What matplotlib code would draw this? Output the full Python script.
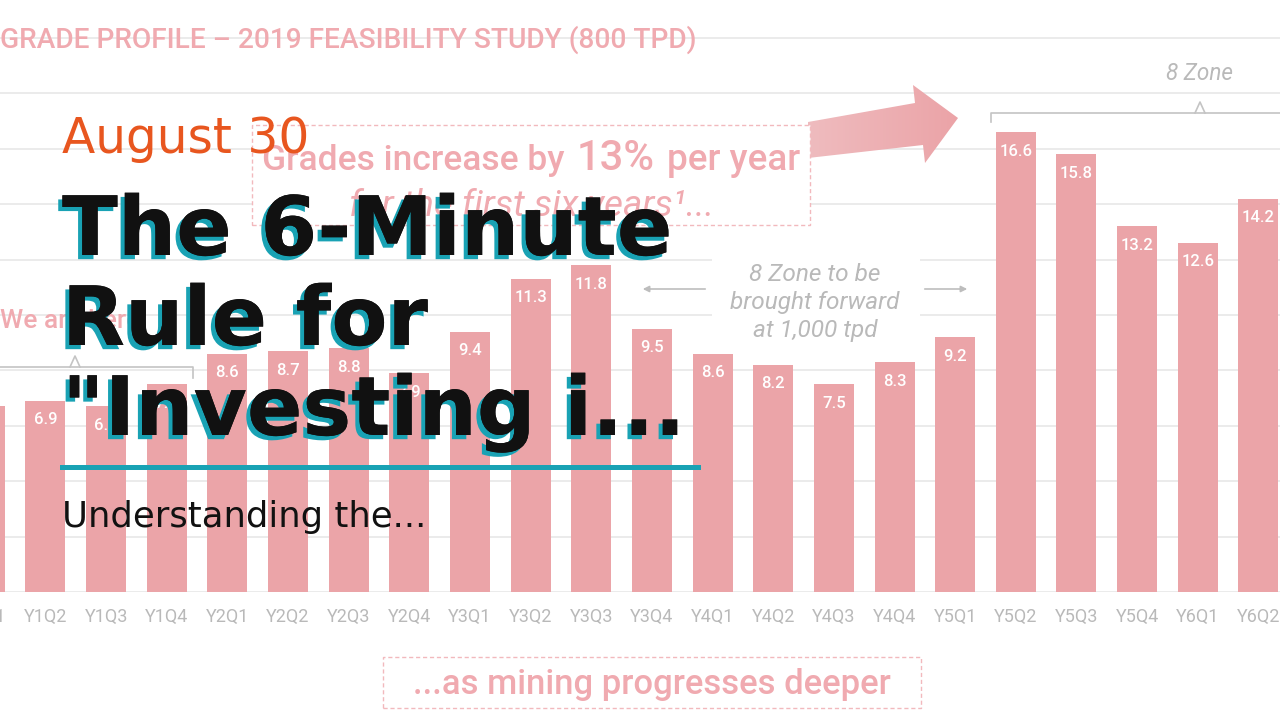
import numpy as np
import matplotlib
matplotlib.use("Agg")
import matplotlib.pyplot as plt
import matplotlib.patheffects as pe
from matplotlib.patches import Rectangle, Polygon, FancyArrowPatch
from matplotlib.lines import Line2D
from matplotlib.colors import LinearSegmentedColormap

# quarterly grade profile (g/t)
quarters = ["Y1Q1", "Y1Q2", "Y1Q3", "Y1Q4", "Y2Q1", "Y2Q2", "Y2Q3", "Y2Q4",
            "Y3Q1", "Y3Q2", "Y3Q3", "Y3Q4", "Y4Q1", "Y4Q2", "Y4Q3", "Y4Q4",
            "Y5Q1", "Y5Q2", "Y5Q3", "Y5Q4", "Y6Q1", "Y6Q2"]
grades = [6.7, 6.9, 6.7, 7.5, 8.6, 8.7, 8.8, 7.9, 9.4, 11.3, 11.8,
          9.5, 8.6, 8.2, 7.5, 8.3, 9.2, 16.6, 15.8, 13.2, 12.6, 14.2]

# overlay card text
date_text = "August 30"
title_lines = ["The 6-Minute", "Rule for", "\"Investing i..."]
subtitle = "Understanding the..."

W, H = 1280, 720
BAR = "#eba4a8"
PINK = "#f0aab0"
GRAY = "#b9b9b9"
GRID = "#e8e8e8"
ORANGE = "#e8561f"
TEAL = "#19a2b4"
CF = "Roboto"

fig = plt.figure(figsize=(12.8, 7.2), dpi=100)
fig.patch.set_facecolor("white")
renderer = fig.canvas.get_renderer()


def fx(x, y):
    # pixel (from top-left) -> figure fraction
    return (x / W, 1 - y / H)


def fit(t, width):
    w = t.get_window_extent(renderer).width
    t.set_fontsize(t.get_fontsize() * width / w)
    return t


def line(xs, ys, **kw):
    pts = [fx(x, y) for x, y in zip(xs, ys)]
    fig.add_artist(Line2D([p[0] for p in pts], [p[1] for p in pts],
                          transform=fig.transFigure, **kw))


def box(x0, y0, x1, y1, dashed=True):
    r = Rectangle(fx(x0, y1), (x1 - x0) / W, (y1 - y0) / H, transform=fig.transFigure,
                  fc="white", ec="#f2b9bd" if dashed else "none", lw=1,
                  ls=(0, (3, 2)), zorder=4)
    fig.add_artist(r)


# background chart: baseline at y=592px, 27.7 px per g/t, bars 60.65 px apart
ax = fig.add_axes([0, (H - 592) / H, 1, 592 / H])
ax.set_xlim(0.2506, 21.356)
ax.set_ylim(0, 592 / 27.7)
ax.bar(range(len(grades)), grades, width=0.66, color=BAR, zorder=2)
ax.set_yticks(range(0, 21, 2))
ax.yaxis.grid(True, color=GRID, lw=1.2)
ax.set_axisbelow(True)
ax.tick_params(left=False, bottom=False, labelleft=False, labelbottom=False)
for s in ax.spines.values():
    s.set_visible(False)

for i, (q, g) in enumerate(zip(quarters, grades)):
    ax.annotate(f"{g:.1f}", (i, g), xytext=(0, -19), textcoords="offset pixels",
                ha="center", va="center", color="white", fontsize=12, family=CF,
                weight="medium", zorder=3)
    ax.annotate(q, (i, 0), xytext=(0, -25), textcoords="offset pixels",
                ha="center", va="center", color=GRAY, fontsize=13, family=CF,
                annotation_clip=False)

fit(fig.text(*fx(0, 48), "GRADE PROFILE – 2019 FEASIBILITY STUDY (800 TPD)",
             color=PINK, fontsize=20, family=CF, weight="medium"), 697)

# "grades increase" callout
box(252, 125, 810, 225)
t1 = fit(fig.text(*fx(262, 170), "Grades increase by", color=PINK, fontsize=20,
                  family=CF, weight="medium", zorder=5), 303)
fit(fig.text(*fx(577, 170), "13%", color=PINK, fontsize=26, family=CF,
             weight="medium", zorder=5), 78)
fit(fig.text(*fx(667, 170), "per year", color=PINK, fontsize=t1.get_fontsize(),
             family=CF, weight="medium", zorder=5), 133)
fit(fig.text(*fx(532, 216), "for the first six years¹...", color=PINK, fontsize=18,
             style="italic", family=CF, ha="center", zorder=5), 365)

# big gradient arrow pointing at the 8 Zone bars
deco = fig.add_axes([0, 0, 1, 1], zorder=1)
deco.set_xlim(0, W)
deco.set_ylim(H, 0)
deco.axis("off")
deco.patch.set_alpha(0)
arrow = Polygon([(808, 122), (915, 103), (913, 85), (958, 118), (925, 163),
                 (923, 145), (808, 158)], closed=True, fc="none", ec="none")
deco.add_patch(arrow)
grad = LinearSegmentedColormap.from_list("g", ["#efbcbf", "#eba3a7"])
img = deco.imshow(np.linspace(0, 1, 256)[None, :], cmap=grad, aspect="auto",
                  extent=(806, 960, 165, 83), interpolation="bilinear")
img.set_clip_path(arrow)

# 8 Zone bracket
line([991, 991, 1290], [122, 113, 113], color="#c4c4c4", lw=1.2)
line([1195, 1200, 1205], [113, 102, 113], color="#c4c4c4", lw=1.2)
fit(fig.text(*fx(1200, 80), "8 Zone", color=GRAY, fontsize=15, style="italic",
             family=CF, ha="center"), 67)

# 8 Zone brought forward note
box(712, 258, 920, 345, dashed=False)
note = ["8 Zone to be", "brought forward", "at 1,000 tpd"]
t = fit(fig.text(*fx(815, 309), note[1], color=GRAY, fontsize=15, style="italic",
                 family=CF, ha="center", zorder=5), 170)
for txt, yb in [(note[0], 281), (note[2], 337)]:
    fig.text(*fx(815, yb), txt, color=GRAY, fontsize=t.get_fontsize(), style="italic",
             family=CF, ha="center", zorder=5)
for a, b in [(708, 640), (922, 970)]:
    fig.add_artist(FancyArrowPatch(fx(a, 289), fx(b, 289), transform=fig.transFigure,
                                   arrowstyle="-|>", mutation_scale=9, color="#bdbdbd",
                                   lw=1.2, zorder=5))

# we are here
fig.text(*fx(0, 328), "We are here", color=PINK, fontsize=19, family=CF,
         weight="medium", zorder=5)
line([-5, 193, 193], [367, 367, 378], color="#c4c4c4", lw=1.2, zorder=5)
line([70, 75, 80], [367, 356, 367], color="#c4c4c4", lw=1.2, zorder=5)

# bottom callout
box(383, 657, 921, 708)
fit(fig.text(*fx(652, 694), "...as mining progresses deeper", color=PINK, fontsize=21,
             family=CF, weight="medium", ha="center", zorder=5), 478)

# overlay card
fig.text(*fx(62, 153), date_text, color=ORANGE, fontsize=35, zorder=10)
shadow = [pe.withSimplePatchShadow(offset=(-3, -3), shadow_rgbFace=TEAL, alpha=1),
          pe.Normal()]
for txt, yb in zip(title_lines, [255, 345, 435]):
    fig.text(*fx(62, yb), txt, color="#111111", fontsize=59, weight="bold",
             path_effects=shadow, zorder=10)
line([62, 698], [467, 467], color=TEAL, lw=3.6, zorder=10)
fig.text(*fx(62, 527), subtitle, color="#111111", fontsize=25.5, zorder=10)

fig.savefig("out.png", dpi=100)
